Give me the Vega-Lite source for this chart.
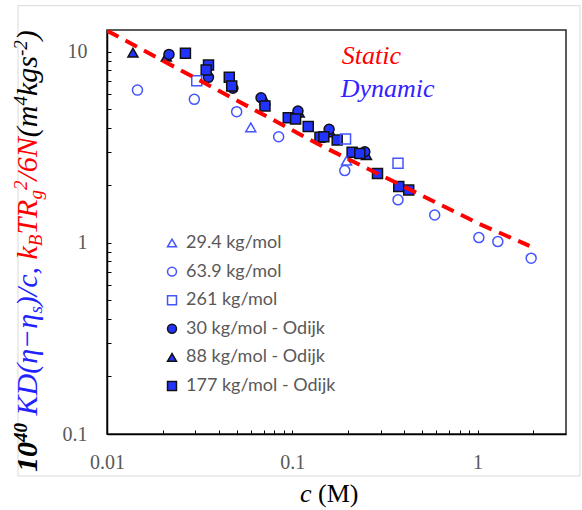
{
  "$schema": "https://vega.github.io/schema/vega-lite/v6.json",
  "width": 459,
  "height": 404,
  "autosize": {"type": "none"},
  "padding": {"left": 107, "top": 30, "right": 16, "bottom": 76},
  "background": "white",
  "config": {"view": {"stroke": "#262626", "strokeWidth": 1.5}, "font": "Liberation Serif"},
  "datasets": {
    "points": [
      {"series": "88 kg/mol  - Odijk", "c": 0.0138, "v": 9.9},
      {"series": "88 kg/mol  - Odijk", "c": 0.0209, "v": 9.42},
      {"series": "88 kg/mol  - Odijk", "c": 0.0712, "v": 5.59},
      {"series": "88 kg/mol  - Odijk", "c": 0.109, "v": 4.8},
      {"series": "88 kg/mol  - Odijk", "c": 0.161, "v": 3.79},
      {"series": "88 kg/mol  - Odijk", "c": 0.2513, "v": 2.88},
      {"series": "30 kg/mol  - Odijk", "c": 0.0216, "v": 9.69},
      {"series": "30 kg/mol  - Odijk", "c": 0.0353, "v": 7.35},
      {"series": "30 kg/mol  - Odijk", "c": 0.0478, "v": 6.44},
      {"series": "30 kg/mol  - Odijk", "c": 0.0678, "v": 5.75},
      {"series": "30 kg/mol  - Odijk", "c": 0.1073, "v": 4.9},
      {"series": "30 kg/mol  - Odijk", "c": 0.158, "v": 3.93},
      {"series": "30 kg/mol  - Odijk", "c": 0.2462, "v": 3.0},
      {"series": "177 kg/mol  - Odijk", "c": 0.0265, "v": 9.81},
      {"series": "177 kg/mol  - Odijk", "c": 0.0353, "v": 8.52},
      {"series": "177 kg/mol  - Odijk", "c": 0.0343, "v": 8.02},
      {"series": "177 kg/mol  - Odijk", "c": 0.0457, "v": 7.35},
      {"series": "177 kg/mol  - Odijk", "c": 0.0471, "v": 6.62},
      {"series": "177 kg/mol  - Odijk", "c": 0.0712, "v": 5.2},
      {"series": "177 kg/mol  - Odijk", "c": 0.0951, "v": 4.52},
      {"series": "177 kg/mol  - Odijk", "c": 0.1042, "v": 4.45},
      {"series": "177 kg/mol  - Odijk", "c": 0.1219, "v": 4.06},
      {"series": "177 kg/mol  - Odijk", "c": 0.141, "v": 3.57},
      {"series": "177 kg/mol  - Odijk", "c": 0.148, "v": 3.59},
      {"series": "177 kg/mol  - Odijk", "c": 0.1747, "v": 3.45},
      {"series": "177 kg/mol  - Odijk", "c": 0.2103, "v": 2.98},
      {"series": "177 kg/mol  - Odijk", "c": 0.2314, "v": 2.94},
      {"series": "177 kg/mol  - Odijk", "c": 0.2883, "v": 2.31},
      {"series": "177 kg/mol  - Odijk", "c": 0.3754, "v": 1.97},
      {"series": "177 kg/mol  - Odijk", "c": 0.4249, "v": 1.89},
      {"series": "29.4 kg/mol", "c": 0.0597, "v": 4.02},
      {"series": "29.4 kg/mol", "c": 0.1962, "v": 2.69},
      {"series": "63.9 kg/mol", "c": 0.0146, "v": 6.3},
      {"series": "63.9 kg/mol", "c": 0.0296, "v": 5.64},
      {"series": "63.9 kg/mol", "c": 0.0501, "v": 4.86},
      {"series": "63.9 kg/mol", "c": 0.0844, "v": 3.59},
      {"series": "63.9 kg/mol", "c": 0.192, "v": 2.39},
      {"series": "63.9 kg/mol", "c": 0.372, "v": 1.68},
      {"series": "63.9 kg/mol", "c": 0.5868, "v": 1.4},
      {"series": "63.9 kg/mol", "c": 1.016, "v": 1.066},
      {"series": "63.9 kg/mol", "c": 1.286, "v": 1.016},
      {"series": "63.9 kg/mol", "c": 1.946, "v": 0.832},
      {"series": "261 kg/mol", "c": 0.0305, "v": 7.05},
      {"series": "261 kg/mol", "c": 0.1938, "v": 3.5},
      {"series": "261 kg/mol", "c": 0.372, "v": 2.61}
    ],
    "static": [
      {"c": 0.01, "v": 12.9},
      {"c": 0.141, "v": 3.25},
      {"c": 1.016, "v": 1.26},
      {"c": 1.905, "v": 0.965}
    ],
    "one": [{}]
  },
  "layer": [
    {
      "data": {"name": "points"},
      "mark": {"type": "point", "opacity": 1, "strokeWidth": 1.5, "size": 100},
      "encoding": {
        "x": {"field": "c", "type": "quantitative", "scale": {"type": "log", "domain": [0.01, 3], "nice": false},
          "axis": {"title": null, "values": [0.01,0.02,0.03,0.04,0.05,0.06,0.07,0.08,0.09,0.1,0.2,0.3,0.4,0.5,0.6,0.7,0.8,0.9,1,2],
            "format": "~g", "labelExpr": "(abs(log(datum.value)/LN10 - round(log(datum.value)/LN10)) < 0.001) ? datum.label : ''",
            "grid": false, "domainColor": "black", "domainWidth": 1.5, "tickColor": "black", "tickWidth": 1, "tickSize": -4,
            "labelFont": "Liberation Serif", "labelFontSize": 20, "labelColor": "#595959", "labelPadding": 22, "labelFlush": false, "labelOverlap": false}},
        "y": {"field": "v", "type": "quantitative", "scale": {"type": "log", "domain": [0.1, 13], "nice": false},
          "axis": {"title": null, "values": [0.1,0.2,0.3,0.4,0.5,0.6,0.7,0.8,0.9,1,2,3,4,5,6,7,8,9,10],
            "format": "~g", "labelExpr": "(abs(log(datum.value)/LN10 - round(log(datum.value)/LN10)) < 0.001) ? datum.label : ''",
            "grid": false, "domainColor": "black", "domainWidth": 1.5, "tickColor": "black", "tickWidth": 1, "tickSize": -4,
            "labelFont": "Liberation Serif", "labelFontSize": 20, "labelColor": "#595959", "labelPadding": 24, "labelFlush": false, "labelOverlap": false}},
        "shape": {"field": "series", "type": "nominal",
          "scale": {"domain": ["29.4 kg/mol", "63.9 kg/mol", "261 kg/mol", "30 kg/mol  - Odijk", "88 kg/mol  - Odijk", "177 kg/mol  - Odijk"],
                    "range": ["triangle-up", "circle", "square", "circle", "triangle-up", "square"]},
          "legend": {"orient": "none", "legendX": 56, "legendY": 204, "title": null, "labelFont": "Lato", "labelFontSize": 18, "labelColor": "#595959", "rowPadding": 10.6, "symbolSize": 80, "labelOffset": 5, "symbolStrokeWidth": 1.5}},
        "fill": {"field": "series", "type": "nominal",
          "scale": {"domain": ["29.4 kg/mol", "63.9 kg/mol", "261 kg/mol", "30 kg/mol  - Odijk", "88 kg/mol  - Odijk", "177 kg/mol  - Odijk"],
                    "range": ["transparent", "transparent", "transparent", "#2233ff", "#2233ff", "#2233ff"]},
          "legend": {"orient": "none", "legendX": 56, "legendY": 204, "title": null, "labelFont": "Lato", "labelFontSize": 18, "labelColor": "#595959", "rowPadding": 10.6, "symbolSize": 80, "labelOffset": 5, "symbolStrokeWidth": 1.5}},
        "stroke": {"field": "series", "type": "nominal",
          "scale": {"domain": ["29.4 kg/mol", "63.9 kg/mol", "261 kg/mol", "30 kg/mol  - Odijk", "88 kg/mol  - Odijk", "177 kg/mol  - Odijk"],
                    "range": ["#4455ff", "#4455ff", "#4455ff", "#111111", "#111111", "#111111"]},
          "legend": {"orient": "none", "legendX": 56, "legendY": 204, "title": null, "labelFont": "Lato", "labelFontSize": 18, "labelColor": "#595959", "rowPadding": 10.6, "symbolSize": 80, "labelOffset": 5, "symbolStrokeWidth": 1.5}}
      }
    },
    {
      "data": {"name": "one"},
      "mark": {"type": "rect", "fill": "transparent", "stroke": "#d9d9d9", "strokeWidth": 1},
      "encoding": {
        "x": {"datum": 0.00331, "type": "quantitative"},
        "x2": {"datum": 3.568},
        "y": {"datum": 17.43, "type": "quantitative"},
        "y2": {"datum": 0.0603}
      }
    },
    {
      "data": {"name": "static"},
      "mark": {"type": "line", "color": "#ff0000", "strokeWidth": 4, "strokeDash": [13, 8], "clip": true},
      "encoding": {
        "x": {"field": "c", "type": "quantitative"},
        "y": {"field": "v", "type": "quantitative"}
      }
    },
    {
      "data": {"name": "one"},
      "mark": {"type": "text", "text": "Static", "font": "Liberation Serif", "fontStyle": "italic", "fontSize": 26, "color": "#ff0000", "align": "left", "baseline": "alphabetic"},
      "encoding": {"x": {"datum": 0.1848, "type": "quantitative"}, "y": {"datum": 8.63, "type": "quantitative"}}
    },
    {
      "data": {"name": "one"},
      "mark": {"type": "text", "text": "Dynamic", "font": "Liberation Serif", "fontStyle": "italic", "fontSize": 26, "color": "#3322ff", "align": "left", "baseline": "alphabetic"},
      "encoding": {"x": {"datum": 0.1825, "type": "quantitative"}, "y": {"datum": 5.82, "type": "quantitative"}}
    },
    {
      "data": {"name": "one"},
      "mark": {"type": "text", "text": "c", "font": "Liberation Serif", "fontStyle": "italic", "fontSize": 26, "color": "black", "align": "left", "baseline": "alphabetic"},
      "encoding": {"x": {"datum": 0.110, "type": "quantitative"}, "y": {"datum": 0.0441, "type": "quantitative"}}
    },
    {
      "data": {"name": "one"},
      "mark": {"type": "text", "text": "(M)", "font": "Liberation Serif", "fontSize": 26, "color": "black", "align": "left", "baseline": "alphabetic"},
      "encoding": {"x": {"datum": 0.1376, "type": "quantitative"}, "y": {"datum": 0.0441, "type": "quantitative"}}
    },
    {"data": {"name": "one"}, "mark": {"type": "text", "text": "10", "angle": 270, "font": "Liberation Serif", "fontStyle": "italic", "fontWeight": "bold", "fontSize": 30, "color": "black", "align": "left", "baseline": "alphabetic"},
     "encoding": {"x": {"datum": 0.004191, "type": "quantitative"}, "y": {"datum": 0.06326, "type": "quantitative"}}},
    {"data": {"name": "one"}, "mark": {"type": "text", "text": "40", "angle": 270, "font": "Liberation Serif", "fontStyle": "italic", "fontWeight": "bold", "fontSize": 19, "color": "black", "align": "left", "baseline": "alphabetic"},
     "encoding": {"x": {"datum": 0.003701, "type": "quantitative"}, "y": {"datum": 0.09082, "type": "quantitative"}}},
    {"data": {"name": "one"}, "mark": {"type": "text", "text": "KD(η−η", "angle": 270, "font": "Liberation Serif", "fontStyle": "italic", "fontSize": 30, "color": "#2222ff", "align": "left", "baseline": "alphabetic"},
     "encoding": {"x": {"datum": 0.004191, "type": "quantitative"}, "y": {"datum": 0.12496, "type": "quantitative"}}},
    {"data": {"name": "one"}, "mark": {"type": "text", "text": "s", "angle": 270, "font": "Liberation Serif", "fontStyle": "italic", "fontSize": 19, "color": "#2222ff", "align": "left", "baseline": "alphabetic"},
     "encoding": {"x": {"datum": 0.004459, "type": "quantitative"}, "y": {"datum": 0.42661, "type": "quantitative"}}},
    {"data": {"name": "one"}, "mark": {"type": "text", "text": ")/c,", "angle": 270, "font": "Liberation Serif", "fontStyle": "italic", "fontSize": 30, "color": "#2222ff", "align": "left", "baseline": "alphabetic"},
     "encoding": {"x": {"datum": 0.004191, "type": "quantitative"}, "y": {"datum": 0.46643, "type": "quantitative"}}},
    {"data": {"name": "one"}, "mark": {"type": "text", "text": "k", "angle": 270, "font": "Liberation Serif", "fontStyle": "italic", "fontSize": 30, "color": "#ff0000", "align": "left", "baseline": "alphabetic"},
     "encoding": {"x": {"datum": 0.004191, "type": "quantitative"}, "y": {"datum": 0.81874, "type": "quantitative"}}},
    {"data": {"name": "one"}, "mark": {"type": "text", "text": "B", "angle": 270, "font": "Liberation Serif", "fontStyle": "italic", "fontSize": 19, "color": "#ff0000", "align": "left", "baseline": "alphabetic"},
     "encoding": {"x": {"datum": 0.004459, "type": "quantitative"}, "y": {"datum": 0.96101, "type": "quantitative"}}},
    {"data": {"name": "one"}, "mark": {"type": "text", "text": "TR", "angle": 270, "font": "Liberation Serif", "fontStyle": "italic", "fontSize": 30, "color": "#ff0000", "align": "left", "baseline": "alphabetic"},
     "encoding": {"x": {"datum": 0.004191, "type": "quantitative"}, "y": {"datum": 1.10509, "type": "quantitative"}}},
    {"data": {"name": "one"}, "mark": {"type": "text", "text": "g", "angle": 270, "font": "Liberation Serif", "fontStyle": "italic", "fontSize": 19, "color": "#ff0000", "align": "left", "baseline": "alphabetic"},
     "encoding": {"x": {"datum": 0.004459, "type": "quantitative"}, "y": {"datum": 1.685, "type": "quantitative"}}},
    {"data": {"name": "one"}, "mark": {"type": "text", "text": "2", "angle": 270, "font": "Liberation Serif", "fontStyle": "italic", "fontSize": 19, "color": "#ff0000", "align": "left", "baseline": "alphabetic"},
     "encoding": {"x": {"datum": 0.003701, "type": "quantitative"}, "y": {"datum": 1.88905, "type": "quantitative"}}},
    {"data": {"name": "one"}, "mark": {"type": "text", "text": "/6N", "angle": 270, "font": "Liberation Serif", "fontStyle": "italic", "fontSize": 30, "color": "#ff0000", "align": "left", "baseline": "alphabetic"},
     "encoding": {"x": {"datum": 0.004191, "type": "quantitative"}, "y": {"datum": 2.11856, "type": "quantitative"}}},
    {"data": {"name": "one"}, "mark": {"type": "text", "text": "(m", "angle": 270, "font": "Liberation Serif", "fontStyle": "italic", "fontSize": 30, "color": "black", "align": "left", "baseline": "alphabetic"},
     "encoding": {"x": {"datum": 0.004191, "type": "quantitative"}, "y": {"datum": 3.5736, "type": "quantitative"}}},
    {"data": {"name": "one"}, "mark": {"type": "text", "text": "4", "angle": 270, "font": "Liberation Serif", "fontStyle": "italic", "fontSize": 19, "color": "black", "align": "left", "baseline": "alphabetic"},
     "encoding": {"x": {"datum": 0.003701, "type": "quantitative"}, "y": {"datum": 5.236, "type": "quantitative"}}},
    {"data": {"name": "one"}, "mark": {"type": "text", "text": "kgs", "angle": 270, "font": "Liberation Serif", "fontStyle": "italic", "fontSize": 30, "color": "black", "align": "left", "baseline": "alphabetic"},
     "encoding": {"x": {"datum": 0.004191, "type": "quantitative"}, "y": {"datum": 5.8714, "type": "quantitative"}}},
    {"data": {"name": "one"}, "mark": {"type": "text", "text": "-2", "angle": 270, "font": "Liberation Serif", "fontStyle": "italic", "fontSize": 19, "color": "black", "align": "left", "baseline": "alphabetic"},
     "encoding": {"x": {"datum": 0.003701, "type": "quantitative"}, "y": {"datum": 9.5066, "type": "quantitative"}}},
    {"data": {"name": "one"}, "mark": {"type": "text", "text": ")", "angle": 270, "font": "Liberation Serif", "fontStyle": "italic", "fontSize": 30, "color": "black", "align": "left", "baseline": "alphabetic"},
     "encoding": {"x": {"datum": 0.004191, "type": "quantitative"}, "y": {"datum": 11.502, "type": "quantitative"}}}
  ]
}
